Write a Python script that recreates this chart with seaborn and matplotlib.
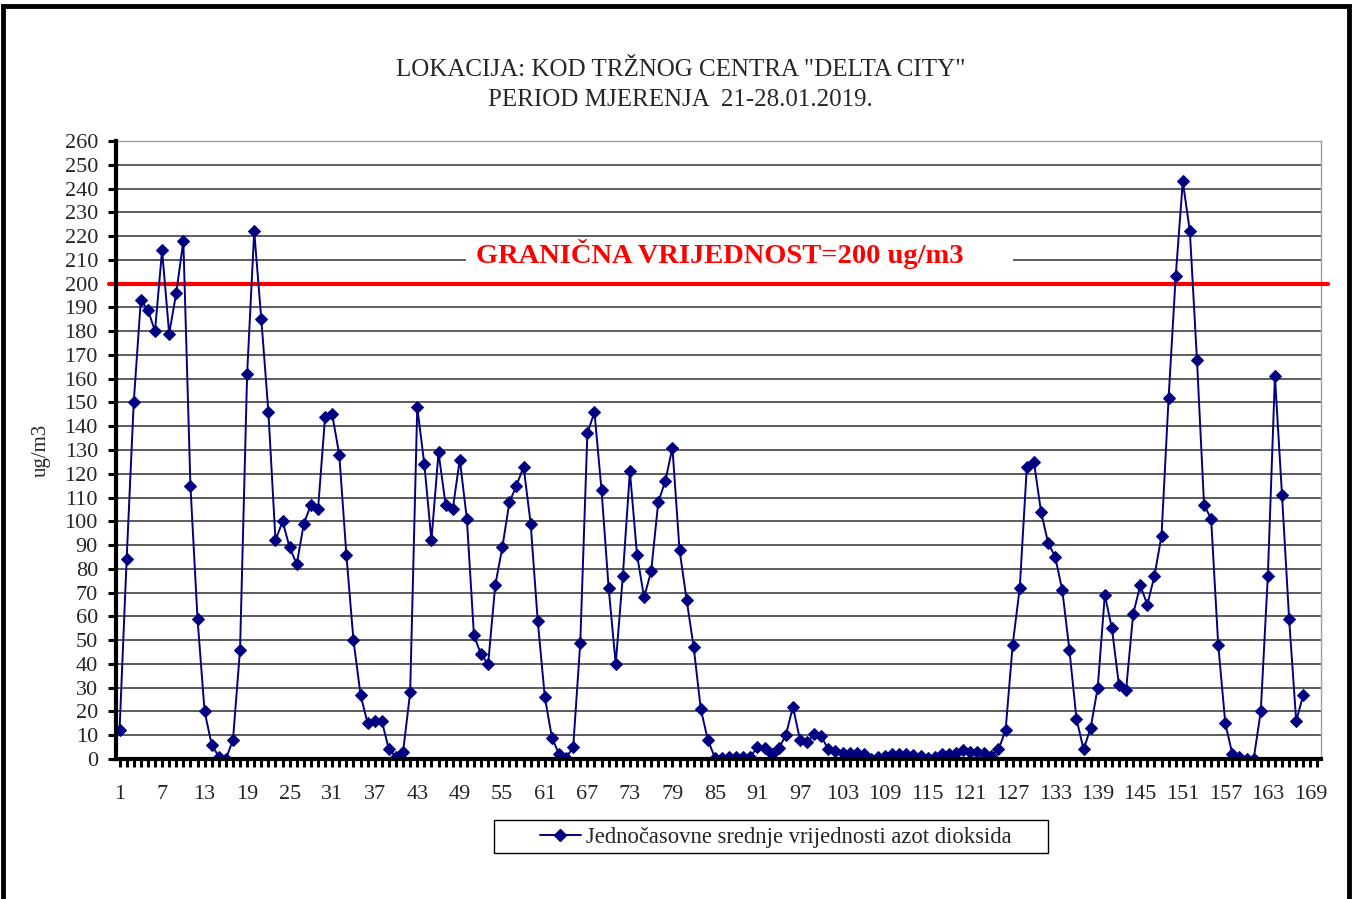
import matplotlib
matplotlib.use("Agg")
import matplotlib.pyplot as plt
from matplotlib.lines import Line2D
from matplotlib.patches import Rectangle
import numpy as np
import pandas as pd
import seaborn as sns

# ---------------- data ----------------
title_line1 = 'LOKACIJA: KOD TRŽNOG CENTRA "DELTA CITY"'
title_line2 = "PERIOD MJERENJA  21-28.01.2019."
y_label = "ug/m3"
series_name = "Jednočasovne srednje vrijednosti azot dioksida"
limit_label = "GRANIČNA VRIJEDNOST=200 ug/m3"
limit_value = 200

hours = list(range(1, 169))
no2 = [
    12, 84, 150, 193, 189, 180, 214, 179, 196, 218,
    115, 59, 20, 6, 1, 0, 8, 46, 162, 222,
    185, 146, 92, 100, 89, 82, 99, 107, 105, 144,
    145, 128, 86, 50, 27, 15, 16, 16, 4, 1,
    3, 28, 148, 124, 92, 129, 107, 105, 126, 101,
    52, 44, 40, 73, 89, 108, 115, 123, 99, 58,
    26, 9, 2, 0.5, 5, 49, 137, 146, 113, 72,
    40, 77, 121, 86, 68, 79, 108, 117, 131, 88,
    67, 47, 21, 8, 0.5, 0.5, 1, 1, 1, 1,
    5, 4.5, 2, 4.5, 10, 22, 8, 7, 10.5, 9.5,
    4, 3.5, 2.7, 2.4, 2.4, 2, 0.2, 1, 1.4, 2,
    2, 2, 1.7, 1.4, 0.5, 1, 2, 2, 2.7, 3.6,
    3.1, 3.1, 2.4, 1.4, 4, 12, 48, 72, 123, 125,
    104, 91, 85, 71, 46, 17, 4, 13, 30, 69,
    55, 31, 29, 61, 73, 65, 77, 94, 152, 203,
    243, 222, 168, 107, 101, 48, 15, 2, 1, 0,
    0, 20, 77, 161, 111, 59, 16, 27,
]
x_categories = list(range(1, 171))
x_tick_labels = [str(c) if (c - 1) % 6 == 0 else "" for c in x_categories]
y_ticks = list(range(0, 261, 10))

df = pd.DataFrame({"sat": hours, "no2": no2})

# ---------------- style ----------------
sns.set_theme(style="white")
plt.rcParams["font.family"] = ["Liberation Serif", "DejaVu Serif"]

W, H = 1353, 899
fig = plt.figure(figsize=(W / 100, H / 100), dpi=100)
fig.patch.set_facecolor("white")

ax = fig.add_axes([116 / W, 1 - 759 / H, 1205 / W, 618 / H])
ax.set_facecolor("white")

sns.lineplot(data=df, x="sat", y="no2", ax=ax, color="#000080",
             marker="D", markersize=6, markeredgecolor="#000080",
             markerfacecolor="#000080", linewidth=1.4, legend=False, zorder=5)

ax.set_xlim(0.5, 170.5)
ax.set_ylim(0, 260)
ax.set_yticks(y_ticks)
ax.set_yticklabels([str(v) for v in y_ticks], fontsize=16)
ax.set_xticks(x_categories)
ax.set_xticklabels(x_tick_labels, fontsize=16)
ax.tick_params(axis="x", direction="out", length=6, width=2.2, pad=13,
               bottom=True, color="black")
ax.tick_params(axis="y", direction="out", length=6, width=2.2, pad=7,
               left=True, color="black")
ax.set_xlabel("")
ax.set_ylabel(y_label, fontsize=15, labelpad=10)

ax.grid(axis="y", color="#303030", linewidth=1.1)
ax.grid(axis="x", visible=False)
ax.set_axisbelow(True)

for side in ("top", "right"):
    ax.spines[side].set_color("#a0a0a0")
    ax.spines[side].set_linewidth(1.0)
for side in ("left", "bottom"):
    ax.spines[side].set_color("black")
    ax.spines[side].set_linewidth(3.0)
    ax.spines[side].set_zorder(6)

# limit line extending slightly beyond the plot area
trans = ax.get_yaxis_transform()
ax.plot([-0.006, 1.006], [limit_value, limit_value], transform=trans,
        color="#ff0000", linewidth=3.0, clip_on=False, zorder=4)

# white box behind the limit label
ax.add_patch(Rectangle((0.2905, 205.5), 0.454, 13.0, transform=trans,
                       facecolor="white", edgecolor="none", zorder=3))
ax.text(0.501, 212.4, limit_label, transform=trans, color="#ff0000",
        fontsize=20.5, fontweight="bold", ha="center", va="center", zorder=4)

# titles
fig.text(0.503, 1 - 70 / H, title_line1, ha="center", va="center",
         fontsize=18)
fig.text(0.503, 1 - 100 / H, title_line2, ha="center", va="center",
         fontsize=18)

# legend (box drawn separately to get Excel-like wide padding)
fig.patches.append(Rectangle((494 / W, 1 - 853 / H), 554 / W, 33 / H,
                             transform=fig.transFigure, facecolor="white",
                             edgecolor="black", linewidth=1.0))
handle = Line2D([], [], color="#000080", marker="D", markersize=6,
                markerfacecolor="#000080", markeredgecolor="#000080",
                linewidth=1.4)
leg = fig.legend([handle], [series_name], loc="center left",
                 bbox_to_anchor=(540 / W, 1 - 837 / H), fontsize=16.3,
                 frameon=False, borderpad=0, borderaxespad=0,
                 handlelength=1.8, handletextpad=0.25)

# outer frame
fig.patches.append(Rectangle((3 / W, -0.05), 1346 / W, 1.05 - 6 / H,
                             transform=fig.transFigure, fill=False,
                             edgecolor="black", linewidth=3.5))

fig.savefig("out.png", dpi=100)
